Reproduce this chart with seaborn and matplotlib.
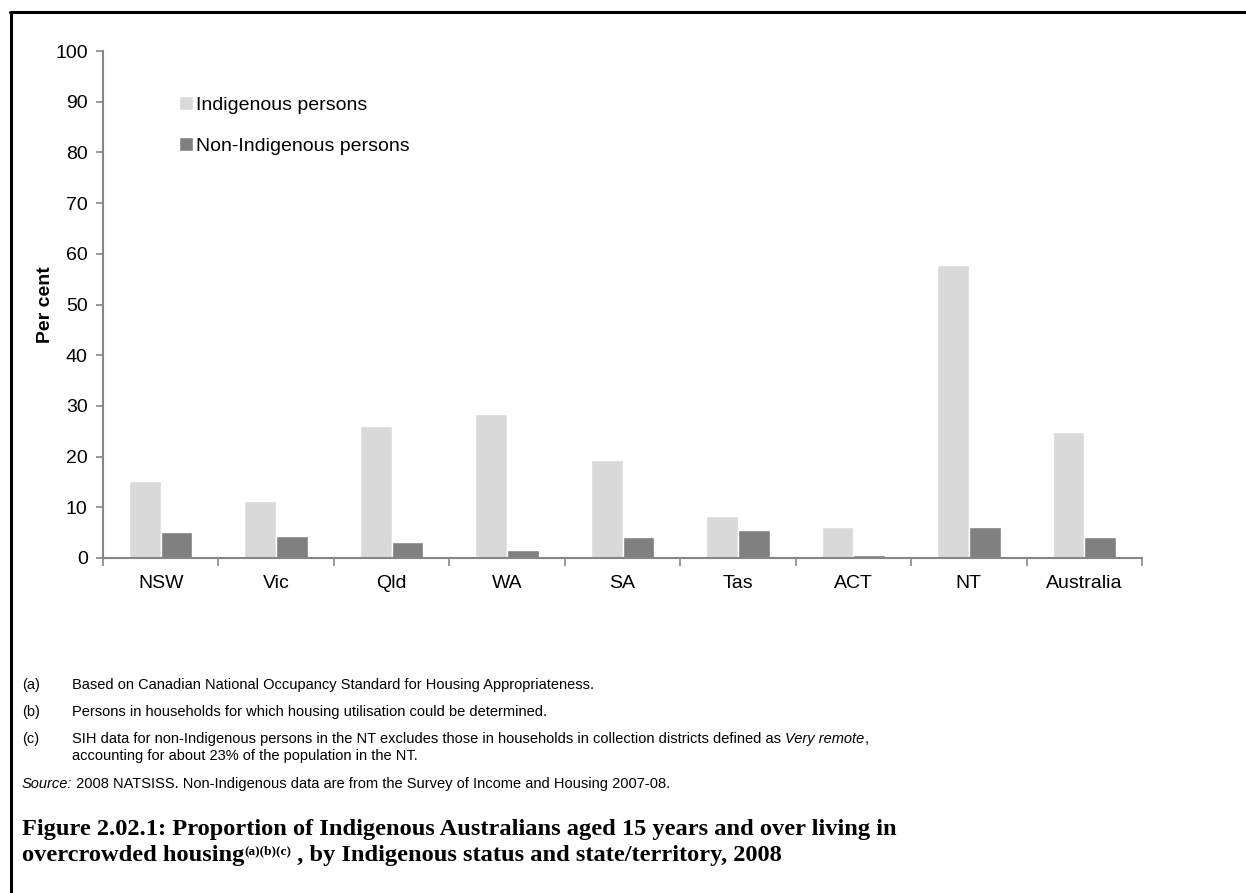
import matplotlib
matplotlib.use('Agg')
import matplotlib.pyplot as plt
import seaborn as sns
import pandas as pd
from matplotlib.lines import Line2D
from matplotlib.ticker import FixedLocator

states = ['NSW', 'Vic', 'Qld', 'WA', 'SA', 'Tas', 'ACT', 'NT', 'Australia']
indigenous = [15.2, 11.3, 26.0, 28.4, 19.4, 8.3, 6.2, 57.7, 24.9]
non_indigenous = [5.1, 4.3, 3.2, 1.6, 4.1, 5.6, 0.6, 6.1, 4.1]
series = ['Indigenous persons', 'Non-Indigenous persons']
colors = ['#d9d9d9', '#808080']

footnotes = [
    ('(a)', 'Based on Canadian National Occupancy Standard for Housing Appropriateness.'),
    ('(b)', 'Persons in households for which housing utilisation could be determined.'),
]
note_c_1 = 'SIH data for non-Indigenous persons in the NT excludes those in households in collection districts defined as '
note_c_2 = 'Very remote'
note_c_3 = 'accounting for about 23% of the population in the NT.'
source_rest = ' 2008 NATSISS. Non-Indigenous data are from the Survey of Income and Housing 2007-08.'
title_1 = 'Figure 2.02.1: Proportion of Indigenous Australians aged 15 years and over living in'
title_2a = 'overcrowded housing'
title_2b = '(a)(b)(c)'
title_2c = ' , by Indigenous status and state/territory, 2008'

df = pd.DataFrame({
    'state': states * 2,
    'value': indigenous + non_indigenous,
    'series': [series[0]] * len(states) + [series[1]] * len(states),
})

sns.set_style('white')
plt.rcParams['font.family'] = ['Liberation Sans', 'DejaVu Sans']
plt.rcParams['text.color'] = 'black'
plt.rcParams['xtick.color'] = 'black'
plt.rcParams['ytick.color'] = 'black'
plt.rcParams['axes.labelcolor'] = 'black'

W, H = 1246, 893
fig = plt.figure(figsize=(W / 100, H / 100), dpi=100)
ax = fig.add_axes([103 / W, 1 - 558 / H, (1142 - 103) / W, (558 - 51) / H])

sns.barplot(data=df, x='state', y='value', hue='series', palette=colors,
            width=0.55, gap=0, saturation=1, ax=ax, legend=True)

ax.set_ylim(0, 100)
ax.set_xlim(-0.5, len(states) - 0.5)
ax.set_yticks(range(0, 101, 10))
ax.set_xlabel('')
ax.set_ylabel('Per cent', fontsize=14, fontweight='bold')
ax.yaxis.set_label_coords((54 - 103) / (1142 - 103), 0.5)
ax.tick_params(axis='y', labelsize=14, length=5, width=1.2, color='#868686',
               direction='out', left=True, pad=6, labelcolor='black')
ax.tick_params(axis='x', which='major', labelsize=14, length=0, pad=12, labelcolor='black')
ax.xaxis.set_minor_locator(FixedLocator([i - 0.5 for i in range(len(states) + 1)]))
ax.tick_params(axis='x', which='minor', length=6, width=1.2, color='#868686',
               direction='out', bottom=True)
for s in ['top', 'right']:
    ax.spines[s].set_visible(False)
for s in ['left', 'bottom']:
    ax.spines[s].set_color('#868686')
    ax.spines[s].set_linewidth(1.5)

leg = ax.legend(loc='upper left', bbox_to_anchor=(171 / W, 1 - 88 / H),
                bbox_transform=fig.transFigure, frameon=False, fontsize=14,
                handlelength=0.72, handleheight=0.72, handletextpad=0.15,
                labelspacing=1.2, borderaxespad=0)
for t in leg.get_texts():
    t.set_color('black')

# frame lines at top and left of the figure
fig.add_artist(Line2D([10 / W, 1], [1 - 12 / H, 1 - 12 / H], color='black', lw=2.2,
                      transform=fig.transFigure))
fig.add_artist(Line2D([11 / W, 11 / W], [0, 1 - 12 / H], color='black', lw=2.2,
                      transform=fig.transFigure))

fs = 10.5
y_rows = [685, 712]
for (lab, txt), yy in zip(footnotes, y_rows):
    fig.text(22 / W, 1 - yy / H, lab, fontsize=fs, va='center')
    fig.text(72 / W, 1 - yy / H, txt, fontsize=fs, va='center')

fig.text(22 / W, 1 - 739 / H, '(c)', fontsize=fs, va='center')
renderer = fig.canvas.get_renderer()
t1 = fig.text(72 / W, 1 - 739 / H, note_c_1, fontsize=fs, va='center')
x_px = t1.get_window_extent(renderer).x1
t2 = fig.text(x_px / W, 1 - 739 / H, note_c_2, fontsize=fs, va='center', style='italic')
x_px = t2.get_window_extent(renderer).x1
fig.text(x_px / W, 1 - 739 / H, ',', fontsize=fs, va='center')
fig.text(72 / W, 1 - 756 / H, note_c_3, fontsize=fs, va='center')

s1 = fig.text(22 / W, 1 - 784 / H, 'Source:', fontsize=fs, va='center', style='italic')
x_px = s1.get_window_extent(renderer).x1
fig.text(x_px / W, 1 - 784 / H, source_rest, fontsize=fs, va='center')

serif = ['Liberation Serif', 'DejaVu Serif']
tfs = 17.6
fig.text(22 / W, 1 - 829 / H, title_1, fontsize=tfs, fontweight='bold', family=serif, va='center')
a = fig.text(22 / W, 1 - 855 / H, title_2a, fontsize=tfs, fontweight='bold', family=serif, va='center')
x_px = a.get_window_extent(renderer).x1
b = fig.text(x_px / W, 1 - 851 / H, title_2b, fontsize=tfs * 0.55, fontweight='bold', family=serif, va='center')
x_px = b.get_window_extent(renderer).x1
fig.text(x_px / W, 1 - 855 / H, title_2c, fontsize=tfs, fontweight='bold', family=serif, va='center')

fig.savefig('out.png', dpi=100)
